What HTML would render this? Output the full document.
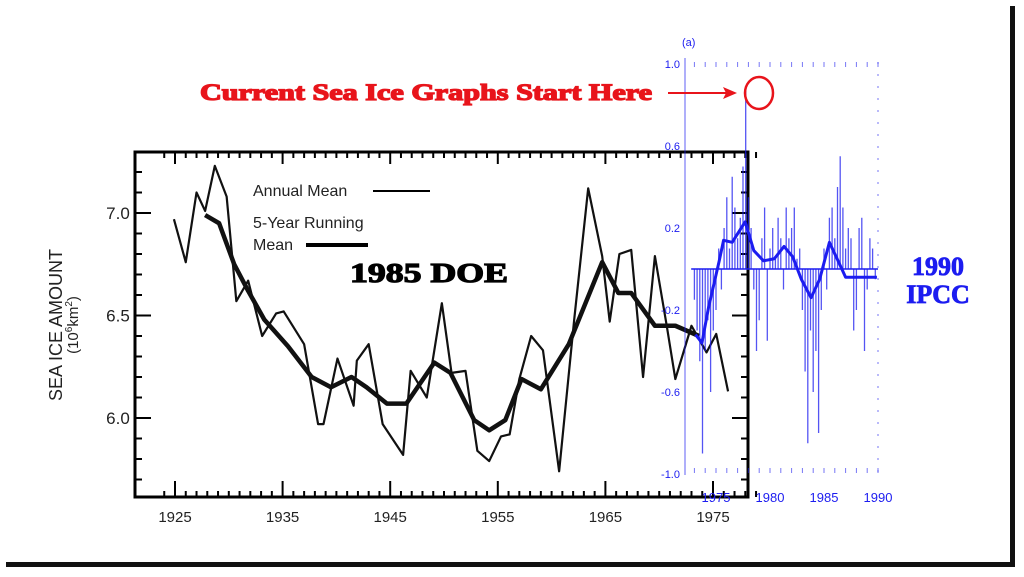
<!DOCTYPE html>
<html><head><meta charset="utf-8"><title>Sea Ice 1985 DOE vs 1990 IPCC</title>
<style>html,body{margin:0;padding:0;background:#fff}svg{display:block}</style></head>
<body>
<svg id="chart" width="1024" height="577" viewBox="0 0 1024 577" xmlns="http://www.w3.org/2000/svg" font-family="Liberation Sans, sans-serif">
  <rect x="0" y="0" width="1024" height="577" fill="#fff"/>
  <rect x="1010" y="6" width="5" height="560" fill="#111"/>
  <rect x="6" y="562" width="1009" height="5" fill="#111"/>
  <g id="doe"></g>
  <g id="ipcc"></g>
  <g>
    <text x="200" y="100" fill="#e8141b" stroke="#e8141b" stroke-width="1.3" font-family="Liberation Serif, serif" font-weight="bold" font-size="23" textLength="452" lengthAdjust="spacingAndGlyphs">Current Sea Ice Graphs Start Here</text>
    <line x1="668" y1="93" x2="728" y2="93" stroke="#e8141b" stroke-width="2"/>
    <polygon points="737,93 723,87 726,93 723,99" fill="#e8141b"/>
    <ellipse cx="759" cy="93" rx="14" ry="16" fill="none" stroke="#e8141b" stroke-width="2.5"/>
    <text x="350" y="282" fill="#000" stroke="#000" stroke-width="1.2" font-family="Liberation Serif, serif" font-weight="bold" font-size="27" textLength="158" lengthAdjust="spacingAndGlyphs">1985 DOE</text>
    <text x="938" y="275" fill="#1c1cf0" stroke="#1c1cf0" stroke-width="0.8" text-anchor="middle" font-family="Liberation Serif, serif" font-weight="bold" font-size="26">1990</text>
    <text x="938" y="303" fill="#1c1cf0" stroke="#1c1cf0" stroke-width="0.8" text-anchor="middle" font-family="Liberation Serif, serif" font-weight="bold" font-size="26">IPCC</text>
  </g>
</svg>
<script>
// ---- DOE 1985 data ----
const annualYears = [1924.9,1926.0,1927.0,1927.8,1928.7,1929.8,1930.7,1931.8,1933.1,1934.4,1935.1,1937.0,1938.3,1938.8,1940.1,1941.6,1941.9,1943.0,1944.3,1946.2,1946.9,1948.4,1949.8,1950.7,1952.0,1953.1,1954.2,1955.3,1956.1,1957.0,1958.1,1959.2,1960.7,1962.1,1963.4,1964.7,1965.4,1966.3,1967.4,1968.5,1969.6,1970.7,1971.5,1973.0,1974.4,1975.3,1976.4];
const annualVals = [6.97,6.76,7.10,7.01,7.23,7.08,6.57,6.67,6.40,6.51,6.52,6.36,5.97,5.97,6.29,6.06,6.28,6.36,5.97,5.82,6.23,6.10,6.56,6.22,6.23,5.84,5.79,5.91,5.92,6.19,6.40,6.33,5.74,6.48,7.12,6.79,6.47,6.80,6.82,6.20,6.79,6.45,6.19,6.45,6.32,6.41,6.13];
const meanYears = [1927.8,1929.1,1930.5,1931.8,1933.3,1935.5,1937.7,1939.5,1941.4,1942.8,1944.7,1946.5,1949.1,1950.6,1952.8,1954.2,1955.7,1957.2,1959.0,1961.6,1964.7,1966.2,1967.4,1969.6,1971.5,1973.7];
const meanVals = [6.99,6.95,6.75,6.62,6.48,6.35,6.20,6.15,6.20,6.15,6.07,6.07,6.27,6.22,5.99,5.94,5.99,6.19,6.14,6.36,6.76,6.61,6.61,6.45,6.45,6.40];
const doeYTicks = ["6.0","6.5","7.0"];
const doeXTicks = ["1925","1935","1945","1955","1965","1975"];

// ---- IPCC 1990 data ----
const barYears = [1973.0,1973.25,1973.5,1973.75,1974.0,1974.25,1974.5,1974.75,1975.0,1975.25,1975.5,1975.75,1976.0,1976.25,1976.5,1976.75,1977.0,1977.25,1977.5,1977.75,1978.0,1978.25,1978.5,1978.75,1979.0,1979.25,1979.5,1979.75,1980.0,1980.25,1980.5,1980.75,1981.0,1981.25,1981.5,1981.75,1982.0,1982.25,1982.5,1982.75,1983.0,1983.25,1983.5,1983.75,1984.0,1984.25,1984.5,1984.75,1985.0,1985.25,1985.5,1985.75,1986.0,1986.25,1986.5,1986.75,1987.0,1987.25,1987.5,1987.75,1988.0,1988.25,1988.5,1988.75,1989.0,1989.25,1989.5,1989.75];
const barVals = [-0.15,-0.3,-0.45,-0.9,-0.4,-0.25,-0.6,-0.3,-0.2,0.1,-0.1,0.2,0.35,0.1,0.45,0.3,0.15,0.25,0.5,0.87,0.35,0.2,-0.1,-0.4,-0.25,0.15,0.3,-0.35,0.1,0.2,0.05,0.25,0.15,-0.1,0.3,0.15,0.2,0.3,0.05,0.1,-0.2,-0.5,-0.85,-0.3,-0.6,-0.4,-0.8,-0.2,0.1,-0.1,0.25,0.3,0.15,0.4,0.55,0.3,0.1,0.2,0.15,-0.3,-0.2,0.2,0.25,-0.4,-0.1,0.15,0.1,-0.05];
const smoothYears = [1973.1,1973.7,1974.3,1975.3,1975.7,1976.5,1977.7,1978.5,1979.4,1980.4,1981.3,1982.1,1982.9,1983.8,1984.6,1985.5,1986.3,1987.0,1988.0,1988.9,1989.9];
const smoothVals = [-0.32,-0.36,-0.19,0.04,0.14,0.13,0.23,0.09,0.04,0.05,0.11,0.06,-0.05,-0.14,-0.05,0.13,0.04,-0.04,-0.04,-0.04,-0.04];
const ipccYTicks = ["1.0","0.6","0.2","-0.2","-0.6","-1.0"];
const ipccXTicks = ["1975","1980","1985","1990"];

const NS = "http://www.w3.org/2000/svg";
function mk(parent, tag, attrs, text) {
  const el = document.createElementNS(NS, tag);
  for (const k in attrs) el.setAttribute(k, attrs[k]);
  if (text !== undefined) el.textContent = text;
  parent.appendChild(el); return el;
}
const dx = y => 175 + (y - 1925) * 10.76;
const dy = v => 213 - (v - 7.0) * 205;
const ix = y => 716 + (y - 1975) * 10.8;
const iy = v => 269 - v * 205;

// ---- DOE plot ----
const doe = document.getElementById('doe');
const L = 135, T = 152, R = 748, B = 497;
for (let yr = 1924; yr <= 1979; yr++) {
  const x = dx(yr); const major = (yr % 10 === 5);
  const t1 = mk(doe, 'line', {x1:x, y1:T, x2:x, y2:T + (major ? 12 : 6), stroke:'#000', 'stroke-width':2});
  
  
  const t2 = mk(doe, 'line', {x1:x, y1:B, x2:x, y2:B - (major ? 16 : 6), stroke:'#000', 'stroke-width':2});
  
  
}
for (let k = 0; k <= 16; k++) {
  const v = 5.7 + k * 0.1; const y = dy(v); if (y < T + 4 || y > B - 4) continue;
  const r = Math.round(v * 10) % 5;
  const major = r === 0;
  const t = mk(doe, 'line', {x1:L, y1:y, x2:L + (major ? 16 : 7), y2:y, stroke:'#000', 'stroke-width':2});
  
  
  const t2 = mk(doe, 'line', {x1:R, y1:y, x2:R - (major ? 16 : 7), y2:y, stroke:'#000', 'stroke-width':2});
  
  
}
const frame = mk(doe, 'rect', {x:L, y:T, width:R - L, height:B - T, fill:'none', stroke:'#000', 'stroke-width':3});


doeYTicks.forEach(s => {
  const t = mk(doe, 'text', {x:118, y:dy(parseFloat(s)) + 6, 'text-anchor':'middle', 'font-size':17, fill:'#222'}, s);
  
  
});
doeXTicks.forEach(s => {
  const t = mk(doe, 'text', {x:dx(parseFloat(s)), y:522, 'text-anchor':'middle', 'font-size':15, fill:'#222'}, s);
  
  
});
const yl = mk(doe, 'text', {x:0, y:0, transform:'translate(62,325) rotate(-90)', 'text-anchor':'middle', 'font-size':18, fill:'#222'}, 'SEA ICE  AMOUNT');


const yl2 = mk(doe, 'text', {x:0, y:0, transform:'translate(78,325) rotate(-90)', 'text-anchor':'middle', 'font-size':15, fill:'#222'});


yl2.innerHTML = '(10<tspan dy="-6" font-size="10">6</tspan><tspan dy="6">km</tspan><tspan dy="-6" font-size="10">2</tspan><tspan dy="6">)</tspan>';
const lg1 = mk(doe, 'text', {x:253, y:196, 'font-size':16, fill:'#222'}, 'Annual Mean');


const lg1l = mk(doe, 'line', {x1:373, y1:191, x2:430, y2:191, stroke:'#000', 'stroke-width':2});


const lg2 = mk(doe, 'text', {x:253, y:228, 'font-size':16, fill:'#222'}, '5-Year Running');


const lg3 = mk(doe, 'text', {x:253, y:250, 'font-size':16, fill:'#222'}, 'Mean');


const lg3l = mk(doe, 'line', {x1:306, y1:245, x2:368, y2:245, stroke:'#000', 'stroke-width':4});


const ann = mk(doe, 'polyline', {points: annualYears.map((y, i) => dx(y) + ',' + dy(annualVals[i])).join(' '), fill:'none', stroke:'#111', 'stroke-width':2.2, 'stroke-linejoin':'round'});


const run = mk(doe, 'polyline', {points: meanYears.map((y, i) => dx(y) + ',' + dy(meanVals[i])).join(' '), fill:'none', stroke:'#111', 'stroke-width':4.5, 'stroke-linejoin':'round'});



// ---- IPCC plot ----
const ip = document.getElementById('ipcc');
const blue = '#1c1cf0';
const ax = mk(ip, 'line', {x1:685, y1:58, x2:685, y2:475, stroke:blue, 'stroke-width':1, opacity:0.7});


const rax = mk(ip, 'line', {x1:878, y1:62, x2:878, y2:475, stroke:blue, 'stroke-width':1, 'stroke-dasharray':'2 10', opacity:0.6});


const lbl = mk(ip, 'text', {x:682, y:46, 'font-size':11, fill:blue}, '(a)');


ipccYTicks.forEach(s => {
  const t = mk(ip, 'text', {x:680, y:iy(parseFloat(s)) + 4, 'text-anchor':'end', 'font-size':11, fill:blue}, s);
  
  
});
ipccXTicks.forEach(s => {
  const t = mk(ip, 'text', {x:ix(parseFloat(s)), y:502, 'text-anchor':'middle', 'font-size':13, fill:blue}, s);
  
  
});
for (let yr = 1973; yr <= 1990; yr++) {
  const t = mk(ip, 'line', {x1:ix(yr), y1:473, x2:ix(yr), y2:468, stroke:blue, opacity:0.6});
  
  
  const t2 = mk(ip, 'line', {x1:ix(yr), y1:62, x2:ix(yr), y2:67, stroke:blue, opacity:0.6});
  
  
}
barVals.forEach((v, i) => {
  const x = ix(barYears[i]);
  const b = mk(ip, 'line', {x1:x, y1:iy(0), x2:x, y2:iy(v), stroke:blue, 'stroke-width':1.3, opacity:0.75});
  
  
});
const zero = mk(ip, 'line', {x1:ix(1972.7), y1:iy(0), x2:ix(1990), y2:iy(0), stroke:blue, 'stroke-width':1.5});


let d = '';
smoothYears.forEach((y, i) => { d += (i ? ' L' : 'M') + ix(y) + ',' + iy(smoothVals[i]); });
const sm = mk(ip, 'path', {d:d, fill:'none', stroke:blue, 'stroke-width':3, 'stroke-linejoin':'round'});


</script>
</body></html>
